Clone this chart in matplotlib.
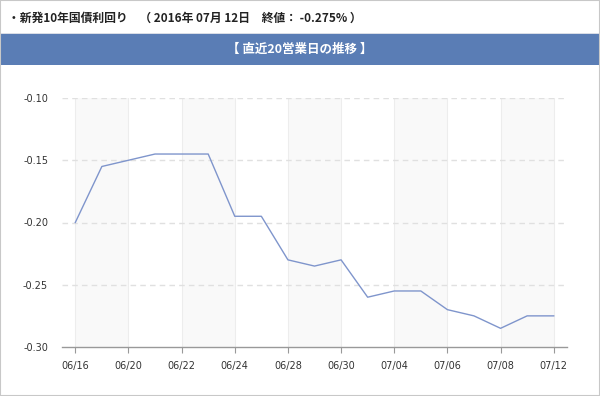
import matplotlib
matplotlib.use("Agg")
import matplotlib.pyplot as plt
from matplotlib.patches import Rectangle

plt.rcParams['font.family'] = ['Noto Sans CJK JP', 'DejaVu Sans']

dates = ["06/16", "06/17", "06/20", "06/21", "06/22", "06/23", "06/24", "06/27",
         "06/28", "06/29", "06/30", "07/01", "07/04", "07/05", "07/06", "07/07",
         "07/08", "07/11", "07/12"]
values = [-0.200, -0.155, -0.150, -0.145, -0.145, -0.145, -0.195, -0.195,
          -0.230, -0.235, -0.230, -0.260, -0.255, -0.255, -0.270, -0.275,
          -0.285, -0.275, -0.275]
yticks = [-0.30, -0.25, -0.20, -0.15, -0.10]
title_text = "・新発10年国債利回り　（ 2016年 07月 12日　終値： -0.275% ）"
banner_text = "【 直近20営業日の推移 】"

fig = plt.figure(figsize=(6.0, 3.96), dpi=100, facecolor='white')
W, H = 600, 396

# outer border
fig.patches.append(Rectangle((0, 0), 1, 1, transform=fig.transFigure,
                             facecolor='none', edgecolor='#c8c8c8', linewidth=1.5, zorder=5))
# banner
fig.patches.append(Rectangle((1 / W, 1 - 65 / H), 598 / W, 32 / H, transform=fig.transFigure,
                             facecolor='#5a7db5', edgecolor='none', zorder=1))
fig.patches.append(Rectangle((1 / W, 1 - 34 / H), 598 / W, 1.5 / H, transform=fig.transFigure,
                             facecolor='#d9dde6', edgecolor='none', zorder=2))
fig.text(8 / W, 1 - 18 / H, title_text, fontsize=8.5, fontweight='bold', color='#222222',
         va='center', ha='left')
fig.text(0.5, 1 - 49 / H, banner_text, fontsize=9, fontweight='bold', color='white',
         va='center', ha='center')

ax = fig.add_axes([62 / W, 1 - 347 / H, 505 / W, 249 / H])
x = list(range(len(dates)))
ax.set_xlim(-0.5, len(dates) - 0.5)
ax.set_ylim(-0.30, -0.10)

tick_idx = x[::2]
for i in range(0, len(tick_idx) - 1, 2):
    ax.axvspan(tick_idx[i], tick_idx[i + 1], color='#f9f9f9', zorder=0, linewidth=0)
for t in tick_idx:
    ax.axvline(t, color='#ededed', linewidth=0.8, zorder=1)
for yv in yticks[1:]:
    ax.axhline(yv, color='#e0e0e0', linewidth=1, linestyle=(0, (4, 3)), zorder=1)

ax.plot(x, values, color='#7f95cc', linewidth=1.0, zorder=3)

for s in ['top', 'right', 'left']:
    ax.spines[s].set_visible(False)
ax.spines['bottom'].set_color('#999999')
ax.spines['bottom'].set_linewidth(1.0)

ax.set_xticks(tick_idx)
ax.set_xticklabels([dates[i] for i in tick_idx])
ax.tick_params(axis='x', length=4, color='#999999', pad=6, labelsize=7,
               labelcolor='#333333', labelfontfamily='DejaVu Sans')
ax.set_yticks(yticks)
ax.set_yticklabels([f"{v:.2f}" for v in yticks])
ax.tick_params(axis='y', length=0, pad=10, labelsize=7, labelcolor='#333333',
               labelfontfamily='DejaVu Sans')
ax.set_facecolor('white')

fig.savefig("out.png", dpi=100)
